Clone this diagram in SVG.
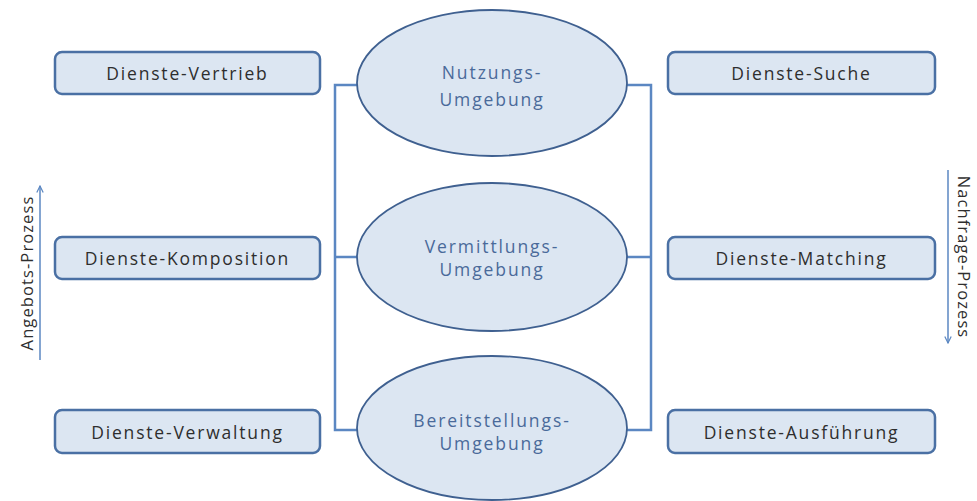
<svg xmlns="http://www.w3.org/2000/svg" width="977" height="501" viewBox="0 0 977 501">
<defs>
<style>
.box{fill:#dce6f2;stroke:#4a70a4;stroke-width:2.5}
.ell{fill:#dce6f2;stroke:#3f6090;stroke-width:1.8}
.bt{font-family:"Open Sans","Liberation Sans",sans-serif;font-size:17.5px;fill:#2e2e2e;text-anchor:middle;letter-spacing:1.8px}
.et{font-family:"Open Sans","Liberation Sans",sans-serif;font-size:17.5px;fill:#4a6a9a;text-anchor:middle;letter-spacing:1.9px}
.at{font-family:"Open Sans","Liberation Sans",sans-serif;font-size:16.5px;fill:#2e2e2e;text-anchor:middle;letter-spacing:1.1px}
.ln{fill:none;stroke:#5b87c2;stroke-width:2.5}
.ar{fill:none;stroke:#5b87c2;stroke-width:1.5}
</style>
<marker id="ah" viewBox="0 0 10 10" refX="9" refY="5" markerWidth="8" markerHeight="8" orient="auto" markerUnits="userSpaceOnUse">
<path d="M1,1 L9,5 L1,9" fill="none" stroke="#5b87c2" stroke-width="1.5"/>
</marker>
</defs>
<rect width="977" height="501" fill="#ffffff"/>
<g id="connectors">
<polyline class="ln" points="357,85 335,85 335,430 357,430"/>
<line class="ln" x1="335" y1="257" x2="357" y2="257"/>
<polyline class="ln" points="627,85 651,85 651,430 627,430"/>
<line class="ln" x1="627" y1="257" x2="651" y2="257"/>
<line class="ar" x1="40" y1="360" x2="40" y2="186" marker-end="url(#ah)"/>
<line class="ar" x1="948" y1="170" x2="948" y2="343" marker-end="url(#ah)"/>
</g>
<g id="label-angebot"><text class="at" transform="translate(33,273) rotate(-90)">Angebots-Prozess</text></g>
<g id="label-nachfrage"><text class="at" transform="translate(958,257) rotate(90)">Nachfrage-Prozess</text></g>
<g id="n-vertrieb"><rect class="box" x="55" y="52" width="265" height="42" rx="7"/><text class="bt" x="187.5" y="80">Dienste-Vertrieb</text></g>
<g id="n-komposition"><rect class="box" x="55" y="237" width="265" height="42" rx="7"/><text class="bt" x="187.5" y="265">Dienste-Komposition</text></g>
<g id="n-verwaltung"><rect class="box" x="55" y="410" width="265" height="43" rx="7"/><text class="bt" x="187.5" y="439">Dienste-Verwaltung</text></g>
<g id="n-suche"><rect class="box" x="668" y="52" width="267" height="42" rx="7"/><text class="bt" x="801.5" y="80">Dienste-Suche</text></g>
<g id="n-matching"><rect class="box" x="668" y="237" width="267" height="42" rx="7"/><text class="bt" x="801.5" y="265">Dienste-Matching</text></g>
<g id="n-ausfuehrung"><rect class="box" x="668" y="410" width="267" height="43" rx="7"/><text class="bt" x="801.5" y="439">Dienste-Ausführung</text></g>
<g id="e-nutzung"><ellipse class="ell" cx="492" cy="83" rx="135" ry="73"/><text class="et" x="492" y="79">Nutzungs-</text><text class="et" x="492" y="106">Umgebung</text></g>
<g id="e-vermittlung"><ellipse class="ell" cx="492" cy="257" rx="135" ry="74"/><text class="et" x="492" y="253">Vermittlungs-</text><text class="et" x="492" y="276">Umgebung</text></g>
<g id="e-bereitstellung"><ellipse class="ell" cx="492" cy="428" rx="135" ry="72"/><text class="et" x="492" y="427">Bereitstellungs-</text><text class="et" x="492" y="450">Umgebung</text></g>
</svg>
